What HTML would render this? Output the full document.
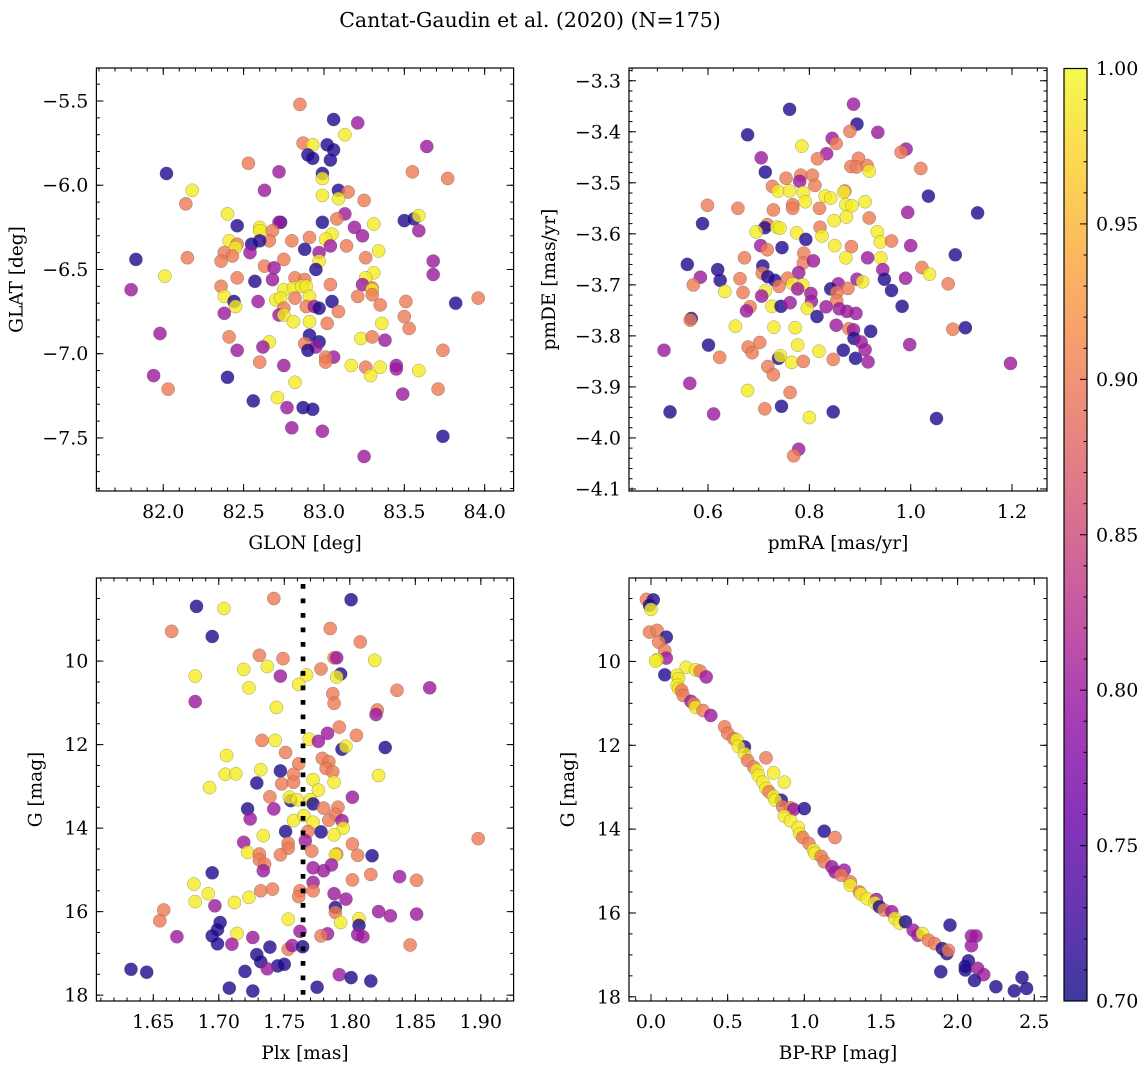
<!DOCTYPE html>
<html><head><meta charset="utf-8"><style>
body{margin:0;background:#fff;}
svg{display:block;font-family:"DejaVu Serif","Liberation Serif",serif;}
</style></head><body>
<svg id="fig" width="1148" height="1068" viewBox="0 0 1148 1068" xmlns="http://www.w3.org/2000/svg">
<defs>
<linearGradient id="plasma" x1="0" y1="1" x2="0" y2="0">
<stop offset="0" stop-color="#0d0887"/><stop offset="0.1" stop-color="#41049d"/><stop offset="0.2" stop-color="#6a00a8"/><stop offset="0.3" stop-color="#8f0da4"/><stop offset="0.4" stop-color="#b12a90"/><stop offset="0.5" stop-color="#cc4778"/><stop offset="0.6" stop-color="#e16462"/><stop offset="0.7" stop-color="#f2844b"/><stop offset="0.8" stop-color="#fca636"/><stop offset="0.9" stop-color="#fcce25"/><stop offset="1" stop-color="#f0f921"/>
</linearGradient>
</defs>
<text x="530" y="27" font-size="20.5" text-anchor="middle">Cantat-Gaudin et al. (2020) (N=175)</text>
</svg>
<script>
// ---- Panel 1: GLON / GLAT ----
const glon=[82.85,83.06,83.21,83.13,82.87,82.93,83.02,83.06,82.90,82.93,83.04,83.64,82.53,82.02,82.72,83.55,83.77,82.99,82.99,82.63,82.18,83.09,83.15,82.99,83.09,83.25,82.14,82.40,83.13,82.73,82.72,83.08,82.99,83.31,82.46,82.60,82.60,83.19,83.50,83.56,83.59,83.59,82.68,83.24,83.05,83.01,82.91,82.80,82.66,82.60,82.55,82.41,82.46,82.45,83.04,83.14,82.88,83.34,82.54,82.38,82.43,82.36,82.15,81.83,82.97,82.75,82.97,83.26,83.68,82.63,82.69,82.95,82.01,83.31,83.68,82.46,82.57,82.68,82.82,82.88,83.26,83.04,82.36,81.80,83.24,83.30,83.30,82.75,82.81,82.86,82.89,82.91,82.82,82.70,82.73,82.38,83.21,83.30,82.59,82.44,82.45,83.05,83.51,83.82,83.96,82.89,82.94,82.97,83.35,82.75,83.09,82.72,82.75,82.38,83.50,82.81,82.91,83.02,83.36,83.53,81.98,82.41,82.91,83.23,83.30,83.38,82.97,82.88,82.95,82.90,82.66,82.62,82.46,83.06,83.01,83.01,82.60,82.75,83.74,83.17,83.26,83.35,83.45,83.45,83.29,83.59,81.94,82.40,82.82,82.03,83.71,83.49,82.71,82.56,82.77,82.87,82.93,82.80,82.99,83.74,83.25];
const glat=[-5.52,-5.61,-5.63,-5.70,-5.75,-5.76,-5.76,-5.79,-5.82,-5.84,-5.85,-5.77,-5.87,-5.93,-5.92,-5.92,-5.96,-5.93,-5.96,-6.03,-6.03,-6.03,-6.04,-6.06,-6.08,-6.09,-6.11,-6.17,-6.17,-6.22,-6.22,-6.20,-6.22,-6.23,-6.24,-6.25,-6.27,-6.25,-6.21,-6.20,-6.18,-6.27,-6.27,-6.30,-6.29,-6.32,-6.31,-6.33,-6.33,-6.33,-6.35,-6.33,-6.35,-6.37,-6.36,-6.36,-6.38,-6.39,-6.40,-6.40,-6.42,-6.45,-6.43,-6.44,-6.40,-6.44,-6.45,-6.43,-6.45,-6.48,-6.49,-6.50,-6.54,-6.52,-6.53,-6.55,-6.57,-6.56,-6.55,-6.56,-6.55,-6.59,-6.60,-6.62,-6.59,-6.61,-6.62,-6.62,-6.61,-6.60,-6.60,-6.66,-6.67,-6.68,-6.67,-6.66,-6.66,-6.65,-6.69,-6.69,-6.72,-6.69,-6.69,-6.70,-6.67,-6.72,-6.72,-6.73,-6.71,-6.73,-6.75,-6.77,-6.77,-6.76,-6.78,-6.81,-6.81,-6.82,-6.82,-6.85,-6.88,-6.90,-6.89,-6.91,-6.90,-6.92,-6.93,-6.94,-6.96,-6.98,-6.93,-6.96,-6.98,-7.02,-7.02,-7.05,-7.05,-7.07,-6.98,-7.07,-7.08,-7.08,-7.07,-7.09,-7.13,-7.10,-7.13,-7.14,-7.17,-7.21,-7.21,-7.24,-7.26,-7.28,-7.32,-7.32,-7.33,-7.44,-7.46,-7.49,-7.61];
const prob1=[.9,.71,.8,.99,.9,.99,.71,.71,.71,.71,.71,.8,.9,.71,.8,.9,.9,.71,.99,.8,.99,.71,.9,.99,.99,.9,.9,.99,.8,.71,.8,.9,.71,.99,.71,.99,.99,.8,.71,.71,.99,.8,.9,.8,.99,.99,.9,.9,.9,.71,.71,.99,.9,.99,.8,.9,.71,.99,.8,.9,.9,.9,.9,.71,.8,.9,.99,.9,.8,.9,.8,.71,.99,.99,.8,.9,.71,.8,.9,.9,.99,.9,.9,.8,.8,.9,.99,.99,.99,.99,.99,.99,.9,.99,.99,.99,.9,.9,.8,.71,.99,.71,.9,.71,.9,.9,.8,.71,.9,.9,.9,.8,.99,.8,.9,.99,.99,.9,.99,.9,.8,.9,.71,.99,.9,.8,.71,.9,.8,.71,.99,.8,.8,.8,.9,.9,.9,.8,.9,.99,.9,.99,.8,.8,.99,.99,.8,.71,.99,.9,.9,.8,.99,.71,.8,.71,.71,.8,.8,.71,.8];
// ---- Panel 2: pmRA / pmDE ----
const pmra=[0.761,0.887,0.894,0.678,0.935,0.880,0.845,0.853,0.785,0.991,0.981,0.705,0.834,0.816,0.897,0.882,0.893,0.914,0.918,1.020,0.713,0.754,0.783,0.781,0.806,0.811,0.727,0.738,0.761,0.788,0.792,0.831,0.842,0.870,0.868,1.035,0.599,0.659,0.729,0.767,0.767,0.820,0.872,0.884,0.910,1.132,0.994,0.589,0.849,0.873,0.918,0.717,0.712,0.736,0.742,0.821,0.695,0.775,0.934,0.940,0.825,0.793,0.962,0.704,0.717,0.746,0.850,0.883,1.000,0.672,0.789,0.788,0.808,0.872,0.915,0.941,1.088,0.559,0.619,0.624,0.708,0.707,0.718,0.732,0.779,0.945,0.948,1.022,1.037,0.585,0.571,0.663,0.757,0.740,0.767,0.787,0.777,0.857,0.842,0.876,0.894,0.905,0.962,0.990,1.074,0.633,0.669,0.713,0.706,0.803,0.804,0.854,0.854,0.683,0.676,0.726,0.744,0.762,0.796,0.833,0.859,0.874,0.892,0.983,0.815,0.567,0.565,0.654,0.730,0.772,0.853,0.878,0.887,0.921,1.083,1.108,0.513,0.601,0.702,0.679,0.687,0.777,0.819,0.888,0.902,0.910,0.916,0.867,0.998,0.623,0.739,0.743,0.765,0.788,0.847,0.891,1.197,0.718,0.729,0.564,0.678,0.762,0.525,0.611,0.712,0.745,0.847,0.800,1.051,0.779,0.769];
const pmde=[-3.356,-3.346,-3.385,-3.406,-3.401,-3.399,-3.413,-3.423,-3.428,-3.434,-3.440,-3.451,-3.443,-3.453,-3.452,-3.468,-3.469,-3.466,-3.477,-3.472,-3.479,-3.491,-3.485,-3.497,-3.485,-3.505,-3.507,-3.516,-3.516,-3.519,-3.537,-3.526,-3.530,-3.516,-3.518,-3.526,-3.544,-3.550,-3.553,-3.543,-3.550,-3.550,-3.543,-3.545,-3.537,-3.559,-3.558,-3.580,-3.574,-3.567,-3.569,-3.582,-3.588,-3.587,-3.589,-3.587,-3.596,-3.598,-3.596,-3.616,-3.604,-3.611,-3.614,-3.623,-3.631,-3.627,-3.623,-3.625,-3.623,-3.647,-3.638,-3.657,-3.653,-3.647,-3.647,-3.647,-3.641,-3.660,-3.670,-3.691,-3.663,-3.677,-3.684,-3.691,-3.676,-3.670,-3.689,-3.666,-3.679,-3.685,-3.700,-3.688,-3.687,-3.703,-3.698,-3.700,-3.708,-3.698,-3.708,-3.707,-3.689,-3.694,-3.711,-3.687,-3.698,-3.713,-3.715,-3.712,-3.722,-3.717,-3.732,-3.715,-3.731,-3.743,-3.751,-3.742,-3.742,-3.735,-3.746,-3.743,-3.747,-3.752,-3.756,-3.742,-3.762,-3.766,-3.769,-3.781,-3.783,-3.784,-3.779,-3.786,-3.788,-3.791,-3.787,-3.784,-3.828,-3.818,-3.813,-3.822,-3.833,-3.818,-3.830,-3.805,-3.812,-3.827,-3.851,-3.828,-3.817,-3.842,-3.844,-3.839,-3.852,-3.850,-3.846,-3.844,-3.854,-3.860,-3.876,-3.893,-3.907,-3.911,-3.949,-3.953,-3.943,-3.938,-3.949,-3.960,-3.962,-4.022,-4.035];
const prob2=[.71,.8,.71,.71,.8,.9,.8,.9,.99,.8,.9,.8,.8,.9,.9,.9,.9,.9,.99,.9,.71,.9,.9,.8,.9,.9,.9,.99,.99,.99,.99,.99,.99,.9,.99,.71,.9,.9,.9,.9,.9,.9,.99,.99,.99,.71,.8,.71,.99,.99,.9,.9,.71,.99,.99,.9,.99,.99,.99,.99,.99,.71,.9,.8,.9,.71,.99,.9,.8,.9,.9,.9,.8,.99,.8,.99,.71,.71,.71,.71,.71,.9,.71,.71,.8,.8,.71,.9,.99,.8,.9,.9,.9,.9,.99,.99,.8,.8,.71,.9,.8,.99,.71,.8,.9,.99,.9,.99,.8,.8,.8,.9,.9,.9,.8,.99,.71,.8,.99,.8,.8,.8,.8,.71,.71,.71,.9,.99,.99,.99,.8,.9,.8,.71,.9,.71,.8,.71,.9,.9,.9,.99,.99,.71,.8,.8,.8,.71,.8,.9,.71,.99,.99,.9,.9,.71,.8,.9,.9,.8,.99,.9,.71,.8,.9,.71,.71,.99,.71,.8,.9];
// ---- Panel 3: Plx / G ----
const plx=[1.742,1.801,1.683,1.704,1.664,1.695,1.785,1.808,1.731,1.749,1.788,1.790,1.819,1.719,1.737,1.778,1.682,1.747,1.767,1.793,1.790,1.761,1.723,1.836,1.861,1.787,1.788,1.682,1.744,1.821,1.820,1.792,1.783,1.805,1.769,1.776,1.733,1.743,1.827,1.794,1.797,1.751,1.706,1.761,1.779,1.784,1.782,1.787,1.732,1.747,1.705,1.713,1.757,1.822,1.788,1.772,1.729,1.748,1.757,1.693,1.776,1.739,1.755,1.754,1.760,1.770,1.802,1.772,1.722,1.742,1.780,1.791,1.789,1.724,1.757,1.765,1.784,1.794,1.772,1.795,1.751,1.768,1.778,1.788,1.734,1.898,1.766,1.719,1.753,1.802,1.722,1.753,1.771,1.790,1.789,1.806,1.817,1.731,1.747,1.731,1.735,1.734,1.772,1.780,1.786,1.695,1.816,1.802,1.838,1.851,1.681,1.692,1.682,1.723,1.712,1.732,1.741,1.772,1.772,1.762,1.761,1.788,1.797,1.697,1.658,1.789,1.789,1.822,1.831,1.851,1.655,1.701,1.753,1.793,1.807,1.807,1.699,1.714,1.762,1.783,1.778,1.806,1.810,1.668,1.695,1.726,1.699,1.710,1.739,1.753,1.756,1.764,1.846,1.729,1.732,1.745,1.750,1.737,1.633,1.645,1.720,1.792,1.801,1.816,1.708,1.726,1.775];
const gmag3=[8.50,8.53,8.69,8.74,9.29,9.41,9.22,9.54,9.86,9.94,9.92,9.92,9.98,10.20,10.13,10.19,10.36,10.36,10.33,10.31,10.38,10.56,10.64,10.70,10.64,10.78,11.01,10.97,11.11,11.17,11.28,11.58,11.73,11.78,11.87,11.92,11.90,11.90,12.07,12.11,12.04,12.19,12.26,12.46,12.33,12.41,12.57,12.65,12.60,12.63,12.71,12.70,12.71,12.74,12.90,12.84,12.92,12.94,12.90,13.03,13.09,13.25,13.34,13.26,13.32,13.32,13.26,13.42,13.54,13.54,13.52,13.50,13.67,13.78,13.82,13.70,13.81,13.82,13.86,14.00,14.08,14.08,14.09,14.16,14.18,14.25,14.30,14.34,14.36,14.38,14.58,14.48,14.55,14.62,14.64,14.65,14.66,14.62,14.64,14.76,14.86,15.02,14.95,15.02,14.88,15.07,15.11,15.24,15.16,15.25,15.34,15.57,15.76,15.66,15.78,15.50,15.46,15.30,15.50,15.50,15.64,15.57,15.70,15.86,15.96,15.90,16.02,16.00,16.10,16.06,16.22,16.26,16.18,16.26,16.17,16.33,16.43,16.52,16.47,16.53,16.58,16.55,16.60,16.60,16.58,16.62,16.77,16.78,16.85,16.90,16.81,16.84,16.80,17.03,17.20,17.30,17.26,17.37,17.38,17.45,17.43,17.51,17.58,17.66,17.83,17.90,17.81];
const prob3=[.9,.71,.71,.99,.9,.71,.9,.9,.9,.9,.9,.8,.99,.99,.99,.9,.99,.8,.99,.71,.99,.99,.99,.9,.8,.9,.9,.8,.99,.9,.8,.9,.8,.9,.99,.8,.9,.99,.71,.71,.99,.9,.99,.9,.9,.9,.9,.9,.99,.71,.99,.99,.9,.99,.99,.99,.71,.9,.9,.99,.99,.9,.71,.99,.99,.99,.8,.71,.71,.8,.9,.9,.9,.8,.99,.99,.9,.8,.99,.99,.71,.9,.71,.99,.99,.9,.8,.8,.9,.9,.99,.9,.9,.9,.99,.9,.71,.9,.9,.9,.9,.8,.8,.8,.8,.71,.9,.9,.8,.9,.99,.99,.99,.99,.99,.9,.9,.8,.9,.9,.9,.8,.8,.8,.9,.71,.9,.8,.8,.8,.9,.71,.99,.99,.99,.71,.71,.99,.8,.8,.9,.8,.8,.8,.71,.8,.71,.8,.71,.9,.8,.71,.9,.71,.71,.71,.71,.8,.71,.71,.71,.8,.71,.71,.71,.71,.71];
const plxRef=[1.7643];
// ---- Panel 4: BP-RP / G ----
const bprp=[-0.03,0.015,-0.01,0.00,-0.01,0.04,0.10,0.05,0.09,0.10,0.04,0.03,0.09,0.23,0.29,0.32,0.36,0.17,0.18,0.17,0.18,0.20,0.21,0.26,0.28,0.29,0.34,0.39,0.48,0.50,0.54,0.56,0.61,0.57,0.61,0.63,0.75,0.67,0.69,0.70,0.80,0.73,0.87,0.75,0.77,0.80,0.85,0.81,0.86,0.91,0.93,1.00,0.87,0.91,0.96,0.97,0.99,1.13,1.20,1.03,1.06,1.07,1.11,1.13,1.18,1.20,1.26,1.24,1.30,1.30,1.36,1.37,1.41,1.47,1.46,1.49,1.52,1.57,1.59,1.62,1.66,1.71,1.74,1.77,1.81,1.85,1.90,1.93,1.94,1.95,2.09,2.12,2.09,2.07,2.05,2.05,2.13,2.17,1.89,2.11,2.25,2.37,2.42,2.45];
const gmag4=[8.52,8.53,8.66,8.76,9.30,9.26,9.42,9.54,9.74,9.92,9.96,9.99,10.32,10.14,10.20,10.23,10.37,10.33,10.41,10.57,10.65,10.69,10.81,10.95,11.01,11.09,11.17,11.29,11.56,11.72,11.84,11.87,12.04,12.03,12.20,12.36,12.30,12.52,12.60,12.72,12.66,12.88,12.88,13.03,13.11,13.22,13.31,13.31,13.47,13.49,13.53,13.51,13.69,13.80,13.96,14.11,14.20,14.05,14.20,14.34,14.50,14.58,14.65,14.78,14.90,15.02,14.98,15.10,15.26,15.34,15.50,15.55,15.66,15.68,15.76,15.85,15.93,15.97,16.13,16.24,16.21,16.41,16.53,16.49,16.65,16.73,16.85,16.97,16.89,16.29,16.55,16.55,16.78,17.14,17.27,17.36,17.32,17.47,17.40,17.61,17.76,17.86,17.54,17.80];
const prob4=[.9,.71,.71,.99,.9,.9,.71,.9,.9,.8,.99,.99,.71,.99,.99,.9,.8,.99,.99,.99,.99,.9,.9,.8,.9,.99,.9,.8,.9,.9,.9,.99,.71,.99,.99,.9,.9,.9,.99,.99,.99,.99,.99,.99,.9,.99,.71,.99,.9,.9,.8,.71,.99,.99,.99,.99,.9,.71,.9,.9,.99,.99,.9,.9,.8,.8,.8,.9,.9,.99,.9,.99,.99,.8,.99,.71,.9,.8,.99,.99,.71,.8,.8,.99,.9,.9,.71,.71,.9,.71,.8,.8,.8,.71,.71,.71,.8,.8,.71,.71,.71,.71,.71,.71];
const cbarTicks=[0.70,0.75,0.80,0.85,0.90,0.95,1.00];

const NS='http://www.w3.org/2000/svg';
const svg=document.getElementById('fig');
function mk(tag,attrs,parent){const e=document.createElementNS(NS,tag);for(const k in attrs)e.setAttribute(k,attrs[k]);(parent||svg).appendChild(e);return e;}
const stops=[[13,8,135],[65,4,157],[106,0,168],[143,13,164],[177,42,144],[204,71,120],[225,100,98],[242,132,75],[252,166,54],[252,206,37],[240,249,33]];
function plasma(p){let t=(p-0.7)/0.3;t=Math.max(0,Math.min(1,t))*10;const i=Math.min(9,Math.floor(t)),f=t-i;const a=stops[i],b=stops[i+1];return 'rgb('+[0,1,2].map(k=>Math.round(a[k]+(b[k]-a[k])*f)).join(',')+')';}
function fmt(v,d){const s=Math.abs(v).toFixed(d);return (v<-1e-9?'\u2212':'')+s;}
const TFS=19, LFS=18.5;

function panel(cfg){
  const g=mk('g',{});
  
  
  const L=cfg.L,R=cfg.R,T=cfg.T,B=cfg.B;
  const sx=v=>L+(v-cfg.x0)/(cfg.x1-cfg.x0)*(R-L);
  const sy=v=>cfg.inv? T+(v-cfg.y0)/(cfg.y1-cfg.y0)*(B-T) : B-(v-cfg.y0)/(cfg.y1-cfg.y0)*(B-T);
  const pg=mk('g',{},g);
  
  
  for(let i=0;i<cfg.xs.length;i++){
    const c=mk('circle',{cx:sx(cfg.xs[i]).toFixed(1),cy:sy(cfg.ys[i]).toFixed(1),r:6.6,fill:plasma(cfg.ps[i]),'fill-opacity':0.8,stroke:'rgba(90,90,90,0.55)','stroke-width':0.5},pg);
    
    
  }
  if(cfg.vline!==undefined){
    const l=mk('line',{x1:sx(cfg.vline),x2:sx(cfg.vline),y1:T,y2:B,stroke:'#000','stroke-width':4.7,'stroke-dasharray':'4.7,9.8','stroke-dashoffset':-6},g);
    
    
  }
  const tg=mk('g',{stroke:'#000','stroke-width':1},g);
  
  
  const eps=1e-9;
  function eachTick(a0,a1,step,fn){const s=Math.ceil((Math.min(a0,a1)-eps)/step),e=Math.floor((Math.max(a0,a1)+eps)/step);for(let k=s;k<=e;k++)fn(+(k*step).toFixed(6));}
  eachTick(cfg.x0,cfg.x1,cfg.xmin,v=>{const x=sx(v);mk('line',{x1:x,x2:x,y1:B,y2:B-3.5},tg);mk('line',{x1:x,x2:x,y1:T,y2:T+3.5},tg);});
  eachTick(cfg.y0,cfg.y1,cfg.ymin,v=>{const y=sy(v);mk('line',{x1:L,x2:L+3.5,y1:y,y2:y},tg);mk('line',{x1:R,x2:R-3.5,y1:y,y2:y},tg);});
  eachTick(cfg.x0,cfg.x1,cfg.xmaj,v=>{const x=sx(v);mk('line',{x1:x,x2:x,y1:B,y2:B-7},tg);mk('line',{x1:x,x2:x,y1:T,y2:T+7},tg);
    const t=mk('text',{x:x,y:B+27,'font-size':TFS,'text-anchor':'middle',stroke:'none',fill:'#000'},g);t.textContent=fmt(v,cfg.xd);
    });
  eachTick(cfg.y0,cfg.y1,cfg.ymaj,v=>{const y=sy(v);mk('line',{x1:L,x2:L+7,y1:y,y2:y},tg);mk('line',{x1:R,x2:R-7,y1:y,y2:y},tg);
    const t=mk('text',{x:L-8,y:y+6.5,'font-size':TFS,'text-anchor':'end',stroke:'none',fill:'#000'},g);t.textContent=fmt(v,cfg.yd);
    });
  const fr=mk('rect',{x:L,y:T,width:R-L,height:B-T,fill:'none',stroke:'#000','stroke-width':1.2},g);
  
  
  const xl=mk('text',{x:(L+R)/2,y:B+58,'font-size':LFS,'text-anchor':'middle'},g);xl.textContent=cfg.xlabel;
  
  const yx=L-cfg.ylo;
  const yl=mk('text',{x:yx,y:(T+B)/2,'font-size':LFS,'text-anchor':'middle',transform:'rotate(-90 '+yx+' '+((T+B)/2)+')'},g);yl.textContent=cfg.ylabel;
  
}

panel({name:'glon-glat-panel',L:96.4,R:513.6,T:68,B:491,x0:81.584,x1:84.18,y0:-5.304,y1:-7.815,inv:true,xmaj:0.5,xmin:0.1,ymaj:0.5,ymin:0.1,xd:1,yd:1,xs:glon,ys:glat,ps:prob1,xlabel:'GLON [deg]',ylabel:'GLAT [deg]',ylo:74});
panel({name:'proper-motion-panel',L:629,R:1047,T:68,B:491,x0:0.444,x1:1.269,y0:-3.275,y1:-4.104,inv:true,xmaj:0.2,xmin:0.05,ymaj:0.1,ymin:0.02,xd:1,yd:1,xs:pmra,ys:pmde,ps:prob2,xlabel:'pmRA [mas/yr]',ylabel:'pmDE [mas/yr]',ylo:74});
panel({name:'parallax-panel',L:96.4,R:513.6,T:578,B:1001,x0:1.6066,x1:1.925,y0:8.01,y1:18.14,inv:true,xmaj:0.05,xmin:0.01,ymaj:2,ymin:0.5,xd:2,yd:0,xs:plx,ys:gmag3,ps:prob3,vline:plxRef[0],xlabel:'Plx [mas]',ylabel:'G [mag]',ylo:55});
panel({name:'cmd-panel',L:629,R:1047,T:578,B:1001,x0:-0.1435,x1:2.583,y0:8.01,y1:18.1,inv:true,xmaj:0.5,xmin:0.1,ymaj:2,ymin:0.5,xd:1,yd:0,xs:bprp,ys:gmag4,ps:prob4,xlabel:'BP-RP [mag]',ylabel:'G [mag]',ylo:55});

const cb=mk('g',{});


const CT=68.5,CB=1001,CL=1064,CR=1087;
mk('rect',{x:CL,y:CT,width:CR-CL,height:CB-CT,fill:'url(#plasma)','fill-opacity':0.8},cb);
mk('rect',{x:CL,y:CT,width:CR-CL,height:CB-CT,fill:'none',stroke:'#000','stroke-width':1.2},cb);
const cy=v=>CB-(v-0.7)/0.3*(CB-CT);
for(let k=70;k<=100;k++){const y=cy(k/100);mk('line',{x1:CR,x2:CR-(k%5===0?7:3.5),y1:y,y2:y,stroke:'#000','stroke-width':1},cb);}
cbarTicks.forEach(v=>{const t=mk('text',{x:CR+9,y:cy(v)+6.5,'font-size':TFS},cb);t.textContent=v.toFixed(2);
  });
</script>
</body></html>
